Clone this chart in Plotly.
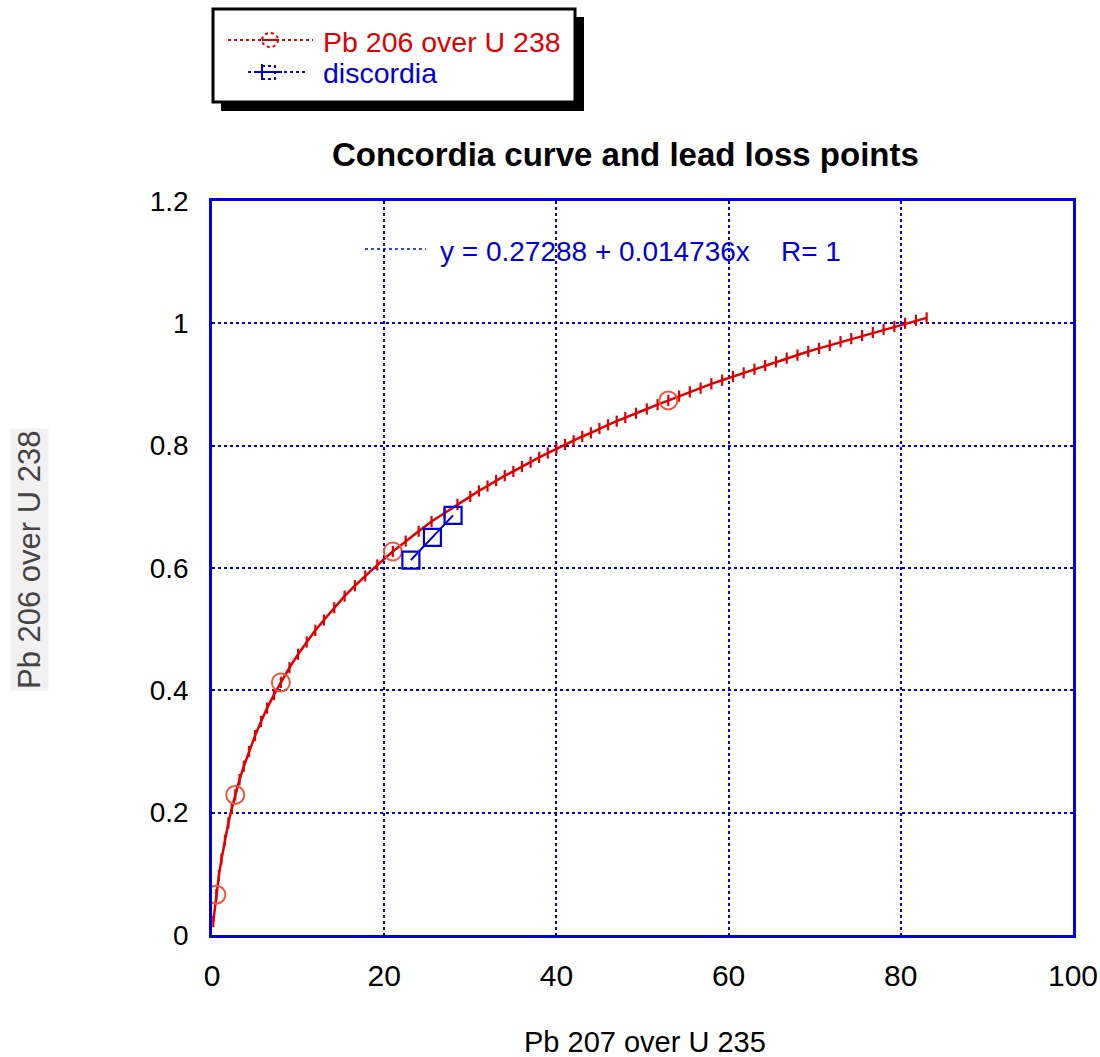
import plotly.graph_objects as go

# ---------------- data ----------------
conc_x = [0.15, 0.5, 0.8, 1.1, 1.5, 1.9, 2.3, 2.7, 3.2, 3.7, 4.3, 5.0, 5.7, 6.4,
          7.2, 8.0, 9.0, 10.0, 11.0, 12.0, 13.0, 14.2, 15.4, 16.6, 17.8, 19.2,
          21.0, 22.5, 24.0, 25.5, 27.0, 28.5, 30.0, 31.0, 32.0, 33.0, 34.0, 35.0,
          36.0, 37.0, 38.0, 39.0, 40.0, 41.0, 42.0, 43.0, 44.0, 45.0, 46.0, 47.0,
          48.0, 49.25, 50.5, 51.75, 53.0, 54.25, 55.5, 56.75, 58.0, 59.25, 60.5,
          61.75, 63.0, 64.25, 65.5, 66.75, 68.0, 69.25, 70.5, 71.75, 73.0, 74.25,
          75.5, 76.75, 78.0, 79.25, 80.5, 81.75, 83.0]
conc_y = [0.022, 0.066, 0.097, 0.124, 0.155, 0.183, 0.207, 0.229, 0.254, 0.276,
          0.300, 0.326, 0.349, 0.371, 0.393, 0.413, 0.437, 0.459, 0.479, 0.498,
          0.515, 0.535, 0.554, 0.571, 0.587, 0.605, 0.627, 0.644, 0.660, 0.676,
          0.690, 0.704, 0.717, 0.726, 0.734, 0.743, 0.751, 0.758, 0.766, 0.773,
          0.781, 0.788, 0.795, 0.802, 0.808, 0.815, 0.821, 0.828, 0.834, 0.840,
          0.846, 0.853, 0.860, 0.867, 0.874, 0.881, 0.888, 0.894, 0.901, 0.907,
          0.913, 0.919, 0.925, 0.931, 0.937, 0.943, 0.948, 0.954, 0.959, 0.964,
          0.970, 0.975, 0.980, 0.985, 0.990, 0.995, 1.000, 1.005, 1.009]

# age markers (circles) on the concordia curve
circle_x = [0.5, 2.7, 8.0, 21.0, 53.0]
circle_y = [0.066, 0.229, 0.413, 0.627, 0.874]

# discordia (lead loss) points
disc_x = [23.1, 25.6, 28.0]
disc_y = [0.613, 0.650, 0.686]

fit_intercept = 0.27288
fit_slope = 0.014736
fit_r = 1

title_text = "Concordia curve and lead loss points"
x_title = "Pb 207 over U 235"
y_title = "Pb 206 over U 238"
series1_name = "Pb 206 over U 238"
series2_name = "discordia"

x_ticks = [0, 20, 40, 60, 80, 100]
y_ticks = [0, 0.2, 0.4, 0.6, 0.8, 1.0, 1.2]

# ---------------- styling ----------------
RED = "#e00000"
BLUE = "#0000d8"
W, H = 1100, 1057
L, R, T, B = 212, 1073, 201, 935

REG = "Liberation Sans, Arial, sans-serif"


def px(x):
    return (x - L) / (R - L)


def py(y):
    return (B - y) / (B - T)


fig = go.Figure()

fig.add_trace(go.Scatter(
    x=conc_x, y=conc_y, mode="lines+markers", name=series1_name,
    line=dict(color=RED, width=2.5),
    marker=dict(symbol="line-ns-open", size=8, line=dict(color=RED, width=2.2)),
    hoverinfo="x+y",
))
fig.add_trace(go.Scatter(
    x=circle_x, y=circle_y, mode="markers", showlegend=False,
    marker=dict(symbol="circle-open", size=18, line=dict(color=RED, width=2)),
))
fig.add_trace(go.Scatter(
    x=disc_x, y=disc_y, mode="lines+markers", name=series2_name,
    line=dict(color=BLUE, width=2),
    marker=dict(symbol="square-open", size=17, line=dict(color=BLUE, width=2.2)),
))

shapes = [
    # legend shadow and box
    dict(type="rect", xref="paper", yref="paper", x0=px(221), x1=px(584), y0=py(111), y1=py(17),
         fillcolor="black", line=dict(width=0), layer="above"),
    dict(type="rect", xref="paper", yref="paper", x0=px(213), x1=px(575), y0=py(102), y1=py(9),
         fillcolor="white", line=dict(color="black", width=3), layer="above"),
    # legend symbols
    dict(type="line", xref="paper", yref="paper", x0=px(228), x1=px(313), y0=py(40), y1=py(40),
         line=dict(color=RED, width=2, dash="dot"), layer="above"),
    dict(type="circle", xref="paper", yref="paper", x0=px(262), x1=px(278), y0=py(47), y1=py(33),
         fillcolor="white", line=dict(color=RED, width=2, dash="dot"), layer="above"),
    dict(type="line", xref="paper", yref="paper", x0=px(262), x1=px(278), y0=py(40), y1=py(40),
         line=dict(color=RED, width=2), layer="above"),
    dict(type="line", xref="paper", yref="paper", x0=px(248), x1=px(308), y0=py(72), y1=py(72),
         line=dict(color=BLUE, width=2, dash="dot"), layer="above"),
    dict(type="rect", xref="paper", yref="paper", x0=px(262), x1=px(275), y0=py(79), y1=py(66),
         fillcolor="white", line=dict(color=BLUE, width=2, dash="dot"), layer="above"),
    dict(type="line", xref="paper", yref="paper", x0=px(262), x1=px(262), y0=py(80), y1=py(64),
         line=dict(color=BLUE, width=2), layer="above"),
    dict(type="line", xref="paper", yref="paper", x0=px(255), x1=px(282), y0=py(72), y1=py(72),
         line=dict(color=BLUE, width=2), layer="above"),
    # fit legend line
    dict(type="line", xref="paper", yref="paper", x0=px(365), x1=px(426), y0=py(249), y1=py(249),
         line=dict(color=BLUE, width=1.5, dash="dot"), layer="above"),
]

nb = "\u00a0"
fit_text = f"y = {fit_intercept} + {fit_slope}x{nb}{nb}{nb}{nb}R= {fit_r}"

annotations = [
    dict(text=series1_name, x=px(321), y=py(42), xanchor="left", yanchor="middle",
         font=dict(family=REG, size=28.5, color=RED)),
    dict(text=series2_name, x=px(321), y=py(73), xanchor="left", yanchor="middle",
         font=dict(family=REG, size=28.5, color=BLUE)),
    dict(text=fit_text, x=px(438), y=py(251), xanchor="left", yanchor="middle",
         font=dict(family=REG, size=28, color=BLUE)),
    dict(text=f"<b>{title_text}</b>", x=px(625), y=py(154), xanchor="center", yanchor="middle",
         font=dict(family=REG, size=33, color="black")),
    dict(text=x_title, x=px(645), y=py(1042), xanchor="center", yanchor="middle",
         font=dict(family=REG, size=29, color="black")),
    dict(text=y_title, x=px(29), y=py(560), xanchor="center", yanchor="middle", textangle=-90,
         bgcolor="#f1f1f1", font=dict(family=REG, size=31, color="#444444")),
]
for a in annotations:
    a.update(xref="paper", yref="paper", showarrow=False)

fig.update_layout(
    width=W, height=H,
    margin=dict(l=L, r=W - R, t=T, b=H - B),
    paper_bgcolor="white", plot_bgcolor="white",
    showlegend=False,
    shapes=shapes, annotations=annotations,
    xaxis=dict(range=[0, 100], tickvals=x_ticks, showgrid=True, gridcolor=BLUE,
               gridwidth=2, griddash="dot", showline=True, linecolor=BLUE, linewidth=2.5,
               mirror=True, zeroline=False, ticks="", ticklabelstandoff=12,
               ticklabeloverflow="allow", automargin=False,
               tickfont=dict(family=REG, size=30, color="black")),
    yaxis=dict(range=[0, 1.2], tickvals=y_ticks, showgrid=True, gridcolor=BLUE,
               gridwidth=2, griddash="dot", showline=True, linecolor=BLUE, linewidth=2.5,
               mirror=True, zeroline=False, ticks="", ticklabelstandoff=15,
               ticklabeloverflow="allow", automargin=False,
               tickfont=dict(family=REG, size=28, color="black")),
)

fig.write_html("out.html", config={"displayModeBar": False},
               post_script="document.body.style.margin='0';document.body.style.padding='0';")
